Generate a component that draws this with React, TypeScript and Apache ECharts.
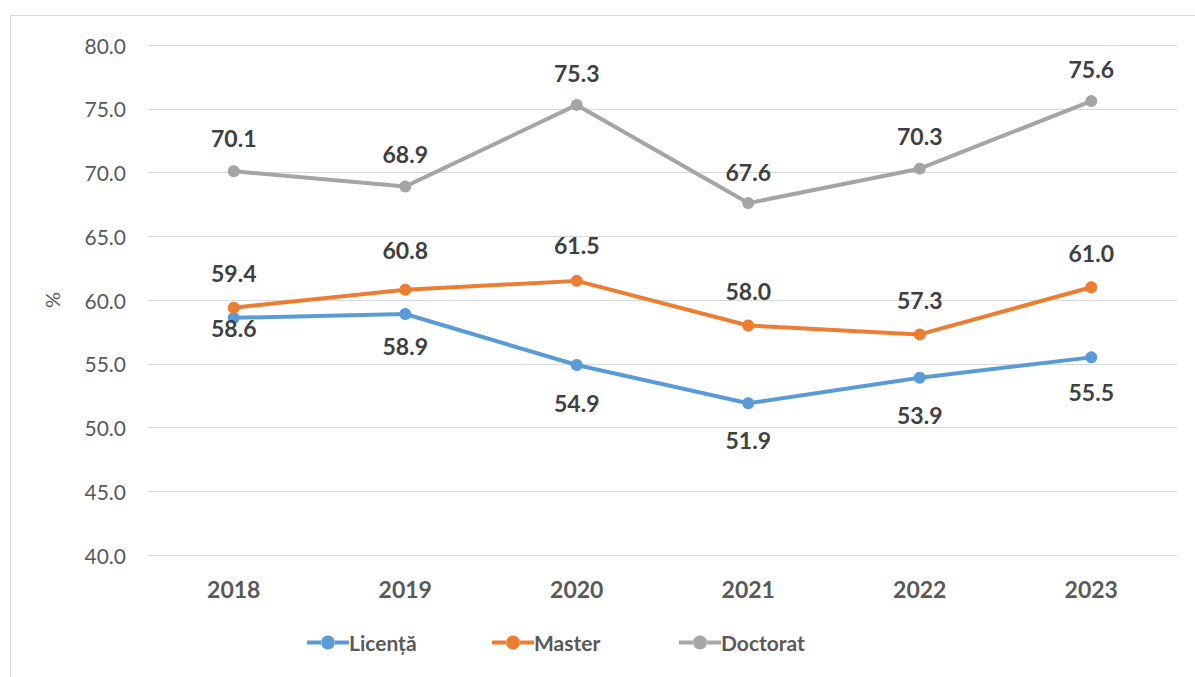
import React, { useEffect, useRef } from "react";
import * as echarts from "echarts";

const years = ["2018", "2019", "2020", "2021", "2022", "2023"];
const licenta = [58.6, 58.9, 54.9, 51.9, 53.9, 55.5];
const master = [59.4, 60.8, 61.5, 58.0, 57.3, 61.0];
const doctorat = [70.1, 68.9, 75.3, 67.6, 70.3, 75.6];
const yTicks = { min: 40, max: 80, interval: 5 };

// label vertical offsets (px, negative = above)
const licentaOffsets = [10, 32, 38, 37, 37, 35];
const masterOffsets = [-35, -40, -36, -35, -34, -34];
const doctoratOffsets = [-33, -33, -32, -31, -33, -32];

const FONT = "Lato";
const TEXT = "#595959";
const LABEL = "#404040";

// legend icon: thick line with a circle marker in the middle
const LEGEND_ICON =
  "path://M0,5 L14.5,5 L14.5,9 L0,9 Z M27.5,5 L42,5 L42,9 L27.5,9 Z M14,7 A7,7 0 1,0 28,7 A7,7 0 1,0 14,7 Z";

function mkSeries(name: string, values: number[], offsets: number[], color: string) {
  return {
    name,
    type: "line",
    data: values.map((v, i) => ({
      value: v,
      label: { offset: [0, offsets[i]] },
    })),
    symbol: "circle",
    symbolSize: 12,
    lineStyle: { width: 4, color },
    itemStyle: { color },
    label: {
      show: true,
      position: "inside",
      formatter: (p: any) => Number(p.value).toFixed(1),
      fontFamily: FONT,
      fontWeight: "bold",
      fontSize: 23,
      color: LABEL,
    },
    emphasis: { disabled: true },
  };
}

function mkLegend(name: string, left: number) {
  return {
    data: [{ name, icon: LEGEND_ICON }],
    left,
    top: 627,
    itemWidth: 42,
    itemHeight: 14,
    itemGap: 4,
    textStyle: { fontFamily: FONT, fontWeight: "bold", fontSize: 21, color: TEXT, padding: [0, 0, 0, -5] },
  };
}

export default function App() {
  const ref = useRef<HTMLDivElement>(null);
  useEffect(() => {
    const chart = echarts.init(ref.current!, undefined, { renderer: "svg" });
    chart.setOption({
      animation: false,
      backgroundColor: "#ffffff",
      grid: { left: 148, right: 18, top: 45, bottom: 122 },
      graphic: [
        {
          type: "rect",
          shape: { x: 10.5, y: 15.5, width: 1250, height: 700 },
          style: { fill: "none", stroke: "#d9d9d9", lineWidth: 1 },
          silent: true,
        },
      ],
      legend: [
        mkLegend("Licență", 302),
        mkLegend("Master", 487),
        mkLegend("Doctorat", 674),
      ],
      xAxis: {
        type: "category",
        data: years,
        axisLine: { lineStyle: { color: "#d9d9d9", width: 1 } },
        axisTick: { show: false },
        axisLabel: { fontFamily: FONT, fontWeight: "bold", fontSize: 23, color: TEXT, margin: 22 },
      },
      yAxis: {
        type: "value",
        min: yTicks.min,
        max: yTicks.max,
        interval: yTicks.interval,
        name: "%",
        nameLocation: "middle",
        nameGap: 86,
        nameRotate: 90,
        nameTextStyle: { fontFamily: FONT, fontSize: 20, color: TEXT },
        axisLine: { show: false },
        axisTick: { show: false },
        axisLabel: {
          fontFamily: FONT,
          fontSize: 21,
          color: TEXT,
          margin: 22,
          formatter: (v: number) => v.toFixed(1),
        },
        splitLine: { lineStyle: { color: "#d9d9d9", width: 1 } },
      },
      series: [
        mkSeries("Licență", licenta, licentaOffsets, "#5B9BD5"),
        mkSeries("Master", master, masterOffsets, "#ED7D31"),
        mkSeries("Doctorat", doctorat, doctoratOffsets, "#A5A5A5"),
      ],
    });
    return () => chart.dispose();
  }, []);
  return (
    <div
      ref={ref}
      style={{ position: "fixed", left: 0, top: 0, width: 1195, height: 677, background: "#fff" }}
    />
  );
}
